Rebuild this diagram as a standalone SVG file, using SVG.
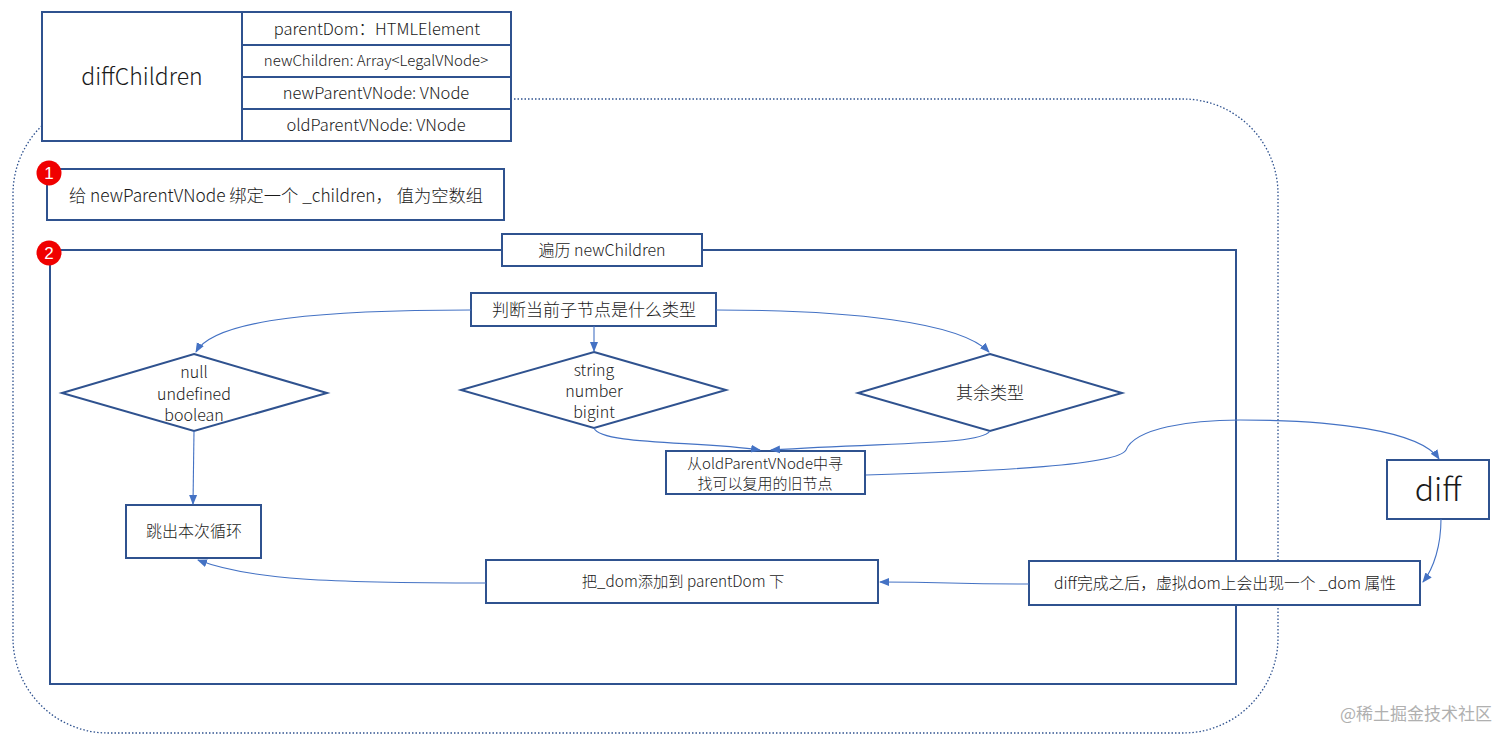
<svg xmlns="http://www.w3.org/2000/svg" width="1512" height="744" viewBox="0 0 1512 744">
<defs>
<marker id="arr" markerWidth="10" markerHeight="10" refX="9" refY="5" orient="auto" markerUnits="userSpaceOnUse">
<path d="M0,1 L10,5 L0,9 Z" fill="#4472C4"/>
</marker>
<style>
.box{fill:#fff;stroke:#2F528F;stroke-width:2}
.frame{fill:none;stroke:#2F528F;stroke-width:2}
.dot{fill:none;stroke:#2F528F;stroke-width:1.3;stroke-dasharray:1.5 2}
.c{fill:none;stroke:#4472C4;stroke-width:1.1;marker-end:url(#arr)}
.t{font-family:"Noto Sans CJK SC","Liberation Sans",sans-serif;font-weight:300;fill:#1a1a1a;text-anchor:middle;font-size:16px}
.red{fill:#f00000}
.num{font-family:"Liberation Sans",sans-serif;fill:#fff;font-size:17px;text-anchor:middle}
</style>
</defs>
<rect width="1512" height="744" fill="#fff"/>
<g id="scope">
<rect class="dot" x="13" y="99" width="1265" height="634" rx="95" ry="95"/>
</g>
<g id="loop">
<rect class="frame" x="50" y="250" width="1186" height="434"/>
</g>
<g id="diffChildren">
<rect class="box" x="42" y="12" width="200" height="129"/>
<text class="t" x="142" y="85" style="font-size:23px">diffChildren</text>
</g>
<g id="params">
<rect class="box" x="242" y="12" width="269" height="33"/>
<text class="t" x="377" y="35" style="font-size:16.5px">parentDom：HTMLElement</text>
<rect class="box" x="242" y="45" width="269" height="32"/>
<text class="t" x="376" y="66" style="font-size:15px">newChildren: Array&lt;LegalVNode&gt;</text>
<rect class="box" x="242" y="77" width="269" height="32"/>
<text class="t" x="376" y="99" style="font-size:16.5px">newParentVNode: VNode</text>
<rect class="box" x="242" y="109" width="269" height="32"/>
<text class="t" x="376" y="131" style="font-size:16.5px">oldParentVNode: VNode</text>
</g>
<g id="step1">
<rect class="box" x="47" y="169" width="457" height="51"/>
<text class="t" x="276" y="202" style="font-size:17.3px">给 newParentVNode 绑定一个 _children， 值为空数组</text>
<circle class="red" cx="49" cy="173" r="12.5"/>
<text class="num" x="49" y="179">1</text>
</g>
<g id="loopTitle">
<rect class="box" x="502" y="234" width="200" height="32"/>
<text class="t" x="602" y="256">遍历 newChildren</text>
<circle class="red" cx="49" cy="253" r="12.5"/>
<text class="num" x="49" y="259">2</text>
</g>
<g id="judge">
<rect class="box" x="471" y="293" width="245" height="33"/>
<text class="t" x="594" y="316" style="font-size:17px">判断当前子节点是什么类型</text>
</g>
<g id="d1">
<polygon class="box" points="194,354 327,393 194,431 62,393"/>
<text class="t" x="194" y="378">null</text>
<text class="t" x="194" y="400">undefined</text>
<text class="t" x="194" y="421">boolean</text>
</g>
<g id="d2">
<polygon class="box" points="594,352 726,390 594,428 461,390"/>
<text class="t" x="594" y="376">string</text>
<text class="t" x="594" y="397">number</text>
<text class="t" x="594" y="418">bigint</text>
</g>
<g id="d3">
<polygon class="box" points="990,354 1122,393 990,431 858,393"/>
<text class="t" x="990" y="399" style="font-size:17px">其余类型</text>
</g>
<g id="findOld">
<rect class="box" x="666" y="451" width="199" height="43"/>
<text class="t" x="765" y="469" style="font-size:15px">从oldParentVNode中寻</text>
<text class="t" x="765" y="489" style="font-size:15px">找可以复用的旧节点</text>
</g>
<g id="skip">
<rect class="box" x="126" y="505" width="135" height="53"/>
<text class="t" x="194" y="537">跳出本次循环</text>
</g>
<g id="append">
<rect class="box" x="486" y="560" width="392" height="43"/>
<text class="t" x="683" y="587" style="font-size:15.3px">把_dom添加到 parentDom 下</text>
</g>
<g id="after">
<rect class="box" x="1029" y="561" width="391" height="44"/>
<text class="t" x="1225" y="589" style="font-size:15.8px">diff完成之后，虚拟dom上会出现一个 _dom 属性</text>
</g>
<g id="diff">
<rect class="box" x="1387" y="460" width="102" height="59"/>
<text class="t" x="1438" y="501" style="font-size:32px">diff</text>
</g>
<g id="connectors">
<path class="c" d="M471,310 C330,310 215,318 196,352"/>
<path class="c" d="M594,326 L594,351"/>
<path class="c" d="M716,310 C850,310 960,322 989,352"/>
<path class="c" d="M194,431 L193,504"/>
<path class="c" d="M594,428 C600,445 700,441 760,450"/>
<path class="c" d="M990,431 C980,445 900,442 771,450"/>
<path class="c" d="M866,475 C1000,471 1118,465 1126,450 C1135,428 1190,420 1240,420 C1330,420 1420,430 1439,459"/>
<path class="c" d="M1441,519 C1441,545 1434,568 1423,582"/>
<path class="c" d="M1029,584 C950,584 950,582 880,582"/>
<path class="c" d="M486,583 C330,583 250,580 198,560"/>
</g>
<text x="1492" y="720" style="font-family:'Noto Sans CJK SC',sans-serif;font-size:17px;fill:#b0b0b0;text-anchor:end">@稀土掘金技术社区</text>
</svg>
